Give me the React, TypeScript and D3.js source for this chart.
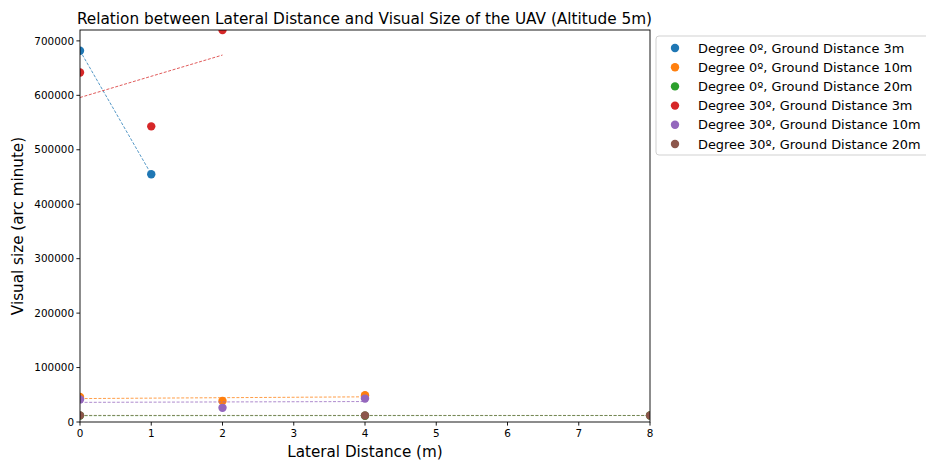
import React from "react";
import * as d3 from "d3";

// Lateral distances (m) and visual sizes (arc minute) per configuration
const labels = [
  "Degree 0º, Ground Distance 3m",
  "Degree 0º, Ground Distance 10m",
  "Degree 0º, Ground Distance 20m",
  "Degree 30º, Ground Distance 3m",
  "Degree 30º, Ground Distance 10m",
  "Degree 30º, Ground Distance 20m",
];
const colors = ["#1f77b4", "#ff7f0e", "#2ca02c", "#d62728", "#9467bd", "#8c564b"];

const xDeg0Gd3 = [0, 1];
const yDeg0Gd3 = [682000, 455000];
const xDeg0Gd10 = [0, 2, 4];
const yDeg0Gd10 = [46000, 38700, 49200];
const xDeg0Gd20 = [0, 4, 8];
const yDeg0Gd20 = [11800, 11600, 12000];
const xDeg30Gd3 = [0, 1, 2];
const yDeg30Gd3 = [642000, 543000, 720000];
const xDeg30Gd10 = [0, 2, 4];
const yDeg30Gd10 = [41500, 26000, 43000];
const xDeg30Gd20 = [0, 4, 8];
const yDeg30Gd20 = [12200, 11900, 12100];

const xTicks = [0, 1, 2, 3, 4, 5, 6, 7, 8];
const yTicks = [0, 100000, 200000, 300000, 400000, 500000, 600000, 700000];

const seriesX = [xDeg0Gd3, xDeg0Gd10, xDeg0Gd20, xDeg30Gd3, xDeg30Gd10, xDeg30Gd20];
const seriesY = [yDeg0Gd3, yDeg0Gd10, yDeg0Gd20, yDeg30Gd3, yDeg30Gd10, yDeg30Gd20];

const W = 926;
const H = 462;
const M = { left: 80, right: 650, top: 30, bottom: 422 };
const FONT = "DejaVu Sans, sans-serif";

// Least-squares line through a series
function fit(xs: number[], ys: number[]) {
  const mx = d3.mean(xs)!;
  const my = d3.mean(ys)!;
  let num = 0;
  let den = 0;
  xs.forEach((x, i) => {
    num += (x - mx) * (ys[i] - my);
    den += (x - mx) * (x - mx);
  });
  const slope = den === 0 ? 0 : num / den;
  const intercept = my - slope * mx;
  const x0 = d3.min(xs)!;
  const x1 = d3.max(xs)!;
  return [
    [x0, intercept + slope * x0],
    [x1, intercept + slope * x1],
  ] as [number, number][];
}

export default function App() {
  const x = d3.scaleLinear().domain([0, 8]).range([M.left, M.right]);
  const y = d3.scaleLinear().domain([0, 720000]).range([M.bottom, M.top]);
  const line = d3
    .line<[number, number]>()
    .x((d) => x(d[0]))
    .y((d) => y(d[1]));

  const legX = 656;
  const legY = 36;
  const rowH = 19.2;

  return (
    <svg
      width={W}
      height={H}
      style={{ position: "absolute", left: 0, top: 0, background: "#fff" }}
      fontFamily={FONT}
    >
      <defs>
        <clipPath id="plotClip">
          <rect x={M.left} y={M.top} width={M.right - M.left} height={M.bottom - M.top} />
        </clipPath>
      </defs>
      <rect x={0} y={0} width={W} height={H} fill="#fff" />

      <g clipPath="url(#plotClip)">
        {seriesX.map((xs, si) => (
          <g key={si}>
            {xs.map((xv, i) => (
              <circle key={i} cx={x(xv)} cy={y(seriesY[si][i])} r={4.2} fill={colors[si]} />
            ))}
            <path
              d={line(fit(xs, seriesY[si])) || ""}
              fill="none"
              stroke={colors[si]}
              strokeWidth={0.9}
              strokeDasharray="3,1.6"
              opacity={si === 5 ? 0.6 : 0.85}
            />
          </g>
        ))}
      </g>

      {/* axes frame */}
      <rect
        x={M.left}
        y={M.top}
        width={M.right - M.left}
        height={M.bottom - M.top}
        fill="none"
        stroke="#000"
        strokeWidth={0.9}
      />

      {/* x ticks */}
      {xTicks.map((t) => (
        <g key={t} transform={`translate(${x(t)},${M.bottom})`}>
          <line y2={3.6} stroke="#000" strokeWidth={0.9} />
          <text y={15} textAnchor="middle" fontSize={10.4} fill="#000">
            {t}
          </text>
        </g>
      ))}
      {/* y ticks */}
      {yTicks.map((t) => (
        <g key={t} transform={`translate(${M.left},${y(t)})`}>
          <line x2={-3.6} stroke="#000" strokeWidth={0.9} />
          <text x={-6} dy="0.35em" textAnchor="end" fontSize={10.4} fill="#000">
            {t}
          </text>
        </g>
      ))}

      <text x={(M.left + M.right) / 2 - 0.5} y={24} textAnchor="middle" fontSize={15.3} fill="#000">
        Relation between Lateral Distance and Visual Size of the UAV (Altitude 5m)
      </text>
      <text x={(M.left + M.right) / 2} y={457} textAnchor="middle" fontSize={15.2} fill="#000">
        Lateral Distance (m)
      </text>
      <text
        transform={`translate(23,${(M.top + M.bottom) / 2}) rotate(-90)`}
        textAnchor="middle"
        fontSize={15.2}
        fill="#000"
      >
        Visual size (arc minute)
      </text>

      {/* legend */}
      <rect
        x={legX}
        y={legY}
        width={300}
        height={119}
        rx={3}
        fill="#fff"
        fillOpacity={0.8}
        stroke="#ccc"
        strokeWidth={0.9}
      />
      {labels.map((lab, i) => (
        <g key={lab} transform={`translate(${legX},${legY + 12 + i * rowH})`}>
          <circle cx={19} cy={0} r={4.2} fill={colors[i]} />
          <text x={42} dy="0.35em" fontSize={12.9} fill="#000">
            {lab}
          </text>
        </g>
      ))}
    </svg>
  );
}
